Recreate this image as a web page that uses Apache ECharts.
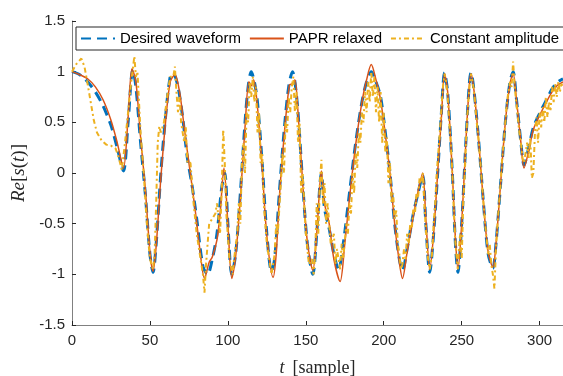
<!DOCTYPE html>
<html>
<head>
<meta charset="utf-8">
<script src="https://cdn.jsdelivr.net/npm/echarts@6/dist/echarts.min.js"></script>
<style>html,body{margin:0;padding:0;background:#fff}#c{width:563px;height:376px}</style>
</head>
<body>
<div id="c"></div>
<script>
var seriesNames = ['Desired waveform', 'PAPR relaxed', 'Constant amplitude'];
var xTicks = [0, 50, 100, 150, 200, 250, 300];
var yTicks = [-1.5, -1, -0.5, 0, 0.5, 1, 1.5];

var desired = [[0,1.0],[5,0.97],[10,0.9],[15,0.8],[20,0.66],[25,0.47],[29,0.25],[33,0.02],[36,0.5],[39,1.02],[41,0.85],[44,0.3],[47,-0.2],[50,-0.8],[52,-0.98],[54,-0.7],[57,0.0],[60,0.55],[63,0.95],[65,0.98],[68,0.85],[71,0.55],[74,0.15],[77,-0.12],[80,-0.45],[84,-0.92],[87,-1.0],[90,-0.85],[93,-0.6],[96,-0.15],[98,0.0],[100,-0.5],[102.5,-1.0],[105,-0.8],[108,-0.2],[111,0.5],[113,0.85],[115,1.0],[117,0.9],[119,0.7],[122,0.1],[125,-0.6],[128,-0.97],[130,-0.85],[133,-0.2],[136,0.4],[139,0.85],[141.5,1.0],[143,0.9],[145,0.6],[148,-0.1],[151,-0.7],[154.5,-1.0],[157,-0.6],[160,0.0],[162,-0.35],[165,-0.55],[168,-0.8],[171,-0.95],[174,-0.7],[178,-0.2],[182,0.3],[186,0.7],[189,0.9],[192,1.0],[195,0.9],[198,0.75],[201,0.4],[204,0.0],[207,-0.5],[210,-0.85],[212,-0.96],[215,-0.75],[219,-0.4],[222,-0.2],[225,-0.02],[227,-0.5],[229.5,-0.98],[232,-0.6],[235,0.1],[237,0.6],[239,0.99],[241,0.8],[244,0.0],[246,-0.7],[247.6,-0.98],[250,-0.5],[253,0.4],[255,0.9],[256,0.99],[258,0.8],[261,0.3],[264,-0.3],[267,-0.8],[270,-0.94],[272,-0.7],[275,-0.1],[278,0.5],[281,0.9],[283,1.0],[285,0.75],[288,0.3],[290,0.08],[293,0.25],[296,0.45],[301,0.62],[305,0.74],[308,0.83],[311,0.89],[315,0.93]];

var paprRelaxed = [[0,1.0],[5,0.97],[10,0.93],[15,0.85],[20,0.72],[25,0.52],[29,0.3],[33,0.05],[36,0.55],[38.5,1.03],[41,0.9],[44,0.35],[47,-0.15],[50,-0.78],[52,-0.97],[54,-0.72],[57,-0.05],[60,0.5],[63,0.9],[66,0.97],[69,0.8],[72,0.45],[75,0.1],[79,-0.36],[82,-0.75],[85,-1.04],[88,-0.88],[90,-0.83],[93,-0.66],[95,-0.4],[97.5,0.05],[100,-0.5],[102.5,-1.04],[105,-0.82],[108,-0.25],[111,0.45],[113.5,0.9],[115,0.86],[116.5,0.92],[119,0.65],[122,0.05],[125,-0.62],[129,-1.03],[131,-0.8],[133,-0.25],[136,0.35],[139.5,0.87],[141.5,0.88],[143,0.92],[145,0.6],[148,-0.1],[151,-0.68],[154.5,-0.96],[157,-0.6],[160,0.02],[162,-0.3],[165,-0.5],[168,-0.85],[172,-1.07],[175,-0.7],[178,-0.25],[182,0.28],[186,0.7],[189,0.92],[192,1.07],[195,0.92],[198,0.72],[201,0.38],[204,0.0],[207,-0.5],[210,-0.88],[212,-1.04],[215,-0.78],[219,-0.42],[222,-0.18],[225,0.0],[227,-0.45],[229.5,-0.95],[232,-0.6],[235,0.1],[237,0.55],[239,0.98],[241,0.8],[244,0.0],[246,-0.65],[247.6,-0.95],[250,-0.5],[253,0.4],[255,0.88],[256,0.98],[258,0.8],[261,0.3],[264,-0.3],[267,-0.78],[270,-0.93],[272,-0.7],[275,-0.1],[278,0.5],[281,0.88],[283,0.98],[285,0.75],[288,0.3],[290,0.05],[293,0.22],[296,0.43],[301,0.6],[305,0.72],[308,0.8],[311,0.86],[315,0.9]];

var constantAmplitude = [[0,1.0],[3,1.08],[6,1.13],[8,1.05],[10,0.88],[12,0.7],[14,0.52],[16,0.4],[19,0.32],[22,0.28],[25,0.27],[28,0.24],[30,0.15],[32,0.03],[34,0.3],[36,0.6],[38,0.9],[40,1.15],[41,0.95],[42,1.0],[44,0.4],[46,0.0],[48,-0.5],[50,-0.85],[52,-0.95],[53,-0.8],[54,-0.3],[55,0.3],[56,0.46],[57,0.4],[59,0.5],[61,0.75],[63,0.95],[65,0.95],[66,1.05],[67,0.8],[68,0.6],[69,0.75],[70,0.5],[72,0.3],[73,0.45],[74,0.1],[76,0.1],[78,-0.3],[80,-0.6],[82,-0.8],[84,-1.0],[85,-1.18],[86,-0.9],[88,-0.5],[90,-0.45],[92,-0.4],[93,-0.3],[95,-0.6],[96,-0.2],[97,0.43],[98,0.1],[99,-0.4],[101,-0.85],[103,-1.0],[104,-0.85],[106,-0.6],[107,-0.3],[108,-0.5],[109,0.1],[110,0.3],[111,0.0],[112,0.6],[113,0.5],[114,0.9],[115,0.75],[116,0.95],[117,0.7],[118,0.85],[119,0.4],[120,0.6],[121,0.1],[122,0.2],[123,-0.3],[125,-0.7],[127,-0.9],[128,-1.0],[130,-0.8],[131,-0.5],[132,-0.6],[134,-0.1],[135,0.2],[136,0.0],[137,0.5],[138,0.4],[139,0.75],[140,0.6],[141,0.85],[142,0.95],[143,0.6],[144,0.8],[145,0.3],[146,0.5],[147,-0.2],[148,0.0],[150,-0.6],[152,-0.9],[154,-0.85],[155,-1.0],[156,-0.8],[157,-0.3],[158,-0.6],[159,-0.1],[160,0.13],[161,-0.3],[162,-0.1],[163,-0.5],[164,-0.3],[166,-0.7],[168,-0.6],[169,-0.9],[170,-0.75],[172,-0.95],[173,-0.7],[174,-0.85],[176,-0.5],[177,-0.6],[178,-0.3],[179,-0.4],[180,0.0],[181,-0.2],[182,0.2],[183,0.05],[184,0.4],[185,0.3],[186,0.6],[187,0.5],[188,0.8],[189,0.6],[190,0.9],[191,0.7],[192,1.0],[193,0.75],[194,0.95],[195,0.6],[196,0.85],[197,0.5],[198,0.8],[199,0.3],[200,0.6],[201,0.2],[202,0.35],[203,-0.1],[204,0.1],[205,-0.3],[206,-0.2],[207,-0.45],[208,-0.37],[209,-0.7],[210,-0.8],[211,-0.95],[212,-0.9],[213,-0.75],[214,-0.85],[215,-0.6],[216,-0.7],[217,-0.5],[218,-0.55],[219,-0.35],[220,-0.4],[221,-0.2],[222,-0.25],[223,-0.05],[224,-0.1],[225,0.0],[226,-0.3],[227,-0.55],[228,-0.8],[229.5,-0.95],[231,-0.8],[232,-0.5],[233,-0.3],[234,0.0],[235,0.2],[236,0.4],[237,0.65],[238,0.85],[239,0.98],[240,0.9],[241,0.75],[242,0.5],[243,0.3],[244,0.0],[245,-0.4],[246,-0.7],[247.5,-0.95],[248,-0.8],[249,-0.6],[250,-0.85],[251,-0.3],[252,0.0],[253,0.4],[254,0.65],[255,0.85],[256,0.98],[257,0.9],[258,0.8],[259,0.6],[260,0.45],[261,0.3],[262,0.1],[263,-0.1],[264,-0.3],[265,-0.5],[266,-0.65],[267,-0.8],[268,-0.7],[269,-0.9],[270,-1.0],[271,-1.14],[272,-0.75],[273,-0.5],[274,-0.3],[275,-0.1],[276,0.15],[277,0.3],[278,0.5],[279,0.7],[280,0.8],[281,0.9],[282,0.85],[283,1.1],[284,0.85],[285,0.7],[286,0.55],[287,0.4],[288,0.3],[289,0.15],[290,0.1],[291,0.2],[292,0.3],[293,0.15],[294,0.35],[295,-0.05],[296,0.0],[297,0.4],[298,0.55],[299,0.3],[300,0.6],[301,0.45],[302,0.65],[303,0.5],[304,0.75],[305,0.55],[306,0.7],[307,0.62],[308,0.85],[309,0.7],[310,0.88],[311,0.75],[312,0.9],[313,0.8],[314,0.88],[315,0.85]];

var chart = echarts.init(document.getElementById('c'), null, {renderer: 'canvas'});
var axisColor = '#808080';
var textColor = '#262626';
var sans = 'Liberation Sans, Arial, sans-serif';
var serif = 'Liberation Serif, DejaVu Serif, serif';

chart.setOption({
  animation: false,
  backgroundColor: '#ffffff',
  grid: {left: 72, right: 0, top: 21, bottom: 51, containLabel: false, outerBoundsMode: 'none'},
  legend: {
    data: seriesNames,
    left: 76, top: 27, width: 700,
    orient: 'horizontal',
    itemWidth: 34, itemHeight: 14, itemGap: 8,
    padding: [4, 8, 4, 4],
    borderColor: '#262626', borderWidth: 1, borderRadius: 0,
    backgroundColor: '#ffffff',
    itemStyle: {opacity: 0},
    textStyle: {fontSize: 15, color: '#000', fontFamily: sans}
  },
  xAxis: {
    type: 'value', min: 0, max: 315, interval: 50,
    name: '{i|t}{n|[sample]}',
    nameLocation: 'middle', nameGap: 34,
    nameTextStyle: {rich: {
      i: {fontFamily: serif, fontStyle: 'italic', fontSize: 18, color: textColor, padding: [0, 8, 0, 0]},
      n: {fontFamily: serif, fontSize: 18, color: textColor}
    }},
    axisLine: {show: true, onZero: false, lineStyle: {color: axisColor, width: 1}},
    axisTick: {show: true, inside: true, length: 4, lineStyle: {color: textColor}},
    axisLabel: {fontSize: 15, color: textColor, fontFamily: sans, margin: 8, showMaxLabel: false},
    splitLine: {show: false}
  },
  yAxis: {
    type: 'value', min: -1.5, max: 1.5, interval: 0.5,
    name: '{i|Re}{n|[}{i|s}{n|(}{i|t}{n|)]}',
    nameLocation: 'middle', nameGap: 41, nameRotate: 90,
    nameTextStyle: {rich: {
      i: {fontFamily: serif, fontStyle: 'italic', fontSize: 19, color: textColor},
      n: {fontFamily: serif, fontSize: 19, color: textColor}
    }},
    axisLine: {show: true, onZero: false, lineStyle: {color: axisColor, width: 1}},
    axisTick: {show: true, inside: true, length: 4, lineStyle: {color: textColor}},
    axisLabel: {fontSize: 15, color: textColor, fontFamily: sans, margin: 7},
    splitLine: {show: false}
  },
  series: [
    {name: seriesNames[0], type: 'line', data: desired, symbol: 'none', smooth: 0.3,
     lineStyle: {color: '#0072BD', width: 3, type: [10, 6]}, itemStyle: {color: '#0072BD'}, z: 2},
    {name: seriesNames[1], type: 'line', data: paprRelaxed, symbol: 'none', smooth: 0.3,
     lineStyle: {color: '#D95319', width: 1.5}, itemStyle: {color: '#D95319'}, z: 3},
    {name: seriesNames[2], type: 'line', data: constantAmplitude, symbol: 'none', smooth: false,
     lineStyle: {color: '#EDB120', width: 2, type: [5, 3, 2, 3]}, itemStyle: {color: '#EDB120'}, z: 4}
  ]
});
</script>
</body>
</html>
